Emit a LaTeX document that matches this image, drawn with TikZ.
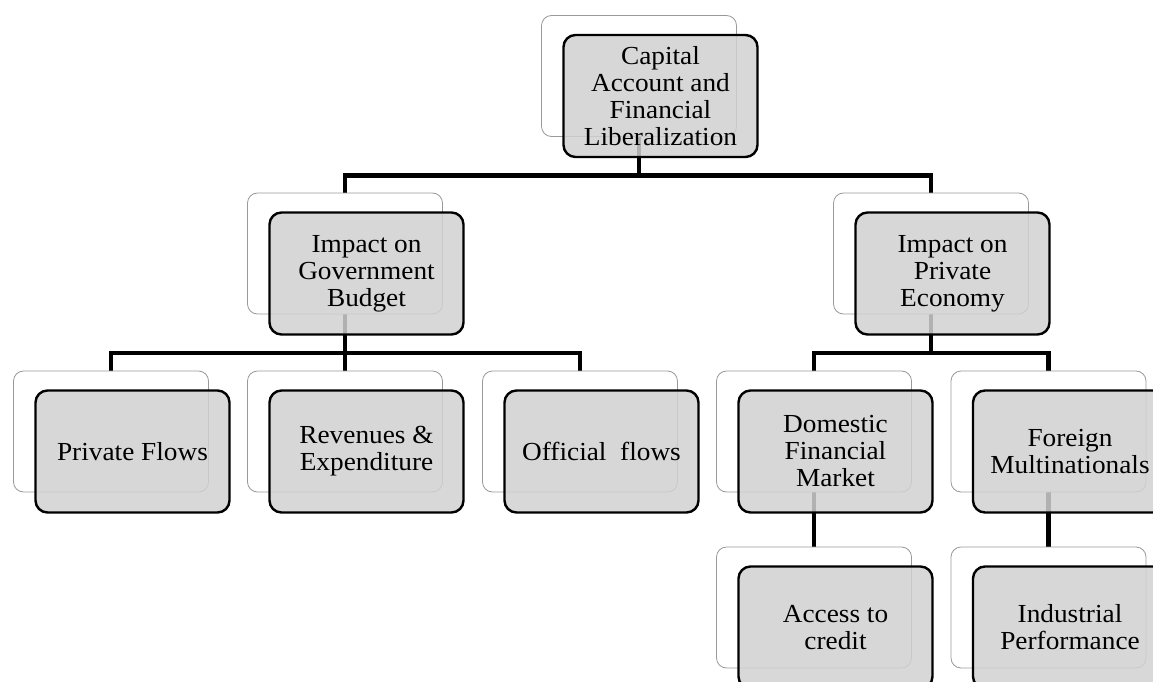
\documentclass[tikz,border=0pt]{standalone}
\usepackage{fontspec}
\setmainfont[FakeStretch=1.05]{Liberation Serif}
\begin{document}
\begin{tikzpicture}[x=1pt,y=-1pt,
  backbox/.style={draw=black!40, line width=0.8pt, fill=white, rounded corners=10pt,
    minimum width=195pt, minimum height=121pt, inner sep=0pt, outer sep=0pt},
  frontbox/.style={draw=black, line width=2.4pt, fill=black!18, fill opacity=0.85, text opacity=1,
    rounded corners=12pt, minimum width=194pt, minimum height=122pt, inner sep=0pt,
    align=center, font=\fontsize{26}{27}\selectfont},
  conn/.style={draw=black, line width=4.8pt}]
\useasboundingbox (0,0) rectangle (1153,682);
\clip (0,0) rectangle (1153,682);
% back boxes (positions)
\coordinate (capC) at (639,76);
\coordinate (govC) at (345,253.5);
\coordinate (priC) at (931,253.5);
\coordinate (pfC) at (111,431.5);
\coordinate (revC) at (345,431.5);
\coordinate (offC) at (580,431.5);
\coordinate (domC) at (814,431.5);
\coordinate (forC) at (1048.5,431.5);
\coordinate (accC) at (814,607.5);
\coordinate (indC) at (1048.5,607.5);
% invisible placeholders for connector anchors
\foreach \n in {cap,gov,pri,pf,rev,off,dom,for,acc,ind}{
  \node[minimum width=195pt, minimum height=121pt, inner sep=0pt, outer sep=0pt] (\n B) at (\n C) {};
}
% connectors
\draw[conn] (capB.south) -- ++(0,39) coordinate (capBar);
\draw[conn] (govB.north) |- (capBar) -| (priB.north);
\draw[conn] (govB.south) -- ++(0,39) coordinate (govBar);
\draw[conn] (pfB.north) |- (govBar) -| (offB.north);
\draw[conn] (govBar) -- (revB.north);
\draw[conn] (priB.south) -- ++(0,39) coordinate (priBar);
\draw[conn] (domB.north) |- (priBar) -| (forB.north);
\draw[conn] (domB.south) -- (accB.north);
\draw[conn] (forB.south) -- (indB.north);
% boxes
\newcommand{\pairbox}[2]{%
  \node[backbox] (#1Back) at (#1C) {};
  \node[frontbox] (#1F) at ([shift={(21.5,20)}]#1C) {#2};
}
\pairbox{cap}{Capital\\Account and\\Financial\\Liberalization}
\pairbox{gov}{Impact on\\Government\\Budget}
\pairbox{pri}{Impact on\\Private\\Economy}
\pairbox{pf}{Private Flows}
\pairbox{rev}{Revenues \&\\Expenditure}
\pairbox{off}{Official\ \ flows}
\pairbox{dom}{Domestic\\Financial\\Market}
\pairbox{for}{Foreign\\Multinationals}
\pairbox{acc}{Access to\\credit}
\pairbox{ind}{Industrial\\Performance}
\end{tikzpicture}
\end{document}
